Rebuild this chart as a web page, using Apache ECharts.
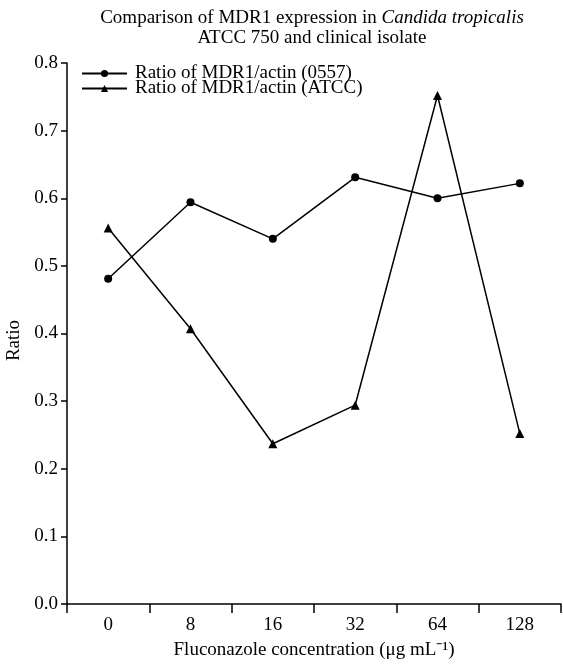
<!DOCTYPE html>
<html>
<head>
<meta charset="utf-8">
<script src="https://cdn.jsdelivr.net/npm/echarts@6/dist/echarts.min.js"></script>
<style>html,body{margin:0;padding:0;background:#fff;}#c{width:563px;height:664px;}</style>
</head>
<body>
<div id="c"></div>
<script>
var categories = ['0', '8', '16', '32', '64', '128'];
var ratio0557 = [0.481, 0.594, 0.540, 0.631, 0.600, 0.622];
var ratioATCC = [0.556, 0.407, 0.237, 0.294, 0.752, 0.252];
var seriesNames = ['Ratio of MDR1/actin (0557)', 'Ratio of MDR1/actin (ATCC)'];

var font = 'Liberation Serif';
var fs = 19;
var chart = echarts.init(document.getElementById('c'), null, {renderer: 'canvas'});
chart.setOption({
  backgroundColor: '#fff',
  animation: false,
  title: {
    text: '{n|Comparison of MDR1 expression in }{i|Candida tropicalis}\n{n|ATCC 750 and clinical isolate}',
    left: 312,
    textAlign: 'center',
    top: 8,
    padding: 0,
    textStyle: {
      fontWeight: 'normal',
      rich: {
        n: {fontFamily: font, fontSize: fs, fontWeight: 'normal', color: '#000', lineHeight: 20},
        i: {fontFamily: font, fontSize: fs, fontWeight: 'normal', color: '#000', fontStyle: 'italic', lineHeight: 20}
      }
    }
  },
  legend: {
    orient: 'vertical',
    left: 81,
    top: 64,
    padding: 0,
    itemWidth: 45,
    itemHeight: 9,
    itemGap: -4,
    textStyle: {fontFamily: font, fontSize: fs, color: '#000', lineHeight: 15, padding: [0, 0, 0, 3]},
    data: seriesNames
  },
  grid: {left: 67, right: 2, top: 63, bottom: 60, containLabel: false, outerBoundsMode: 'none'},
  xAxis: {
    type: 'category',
    data: categories,
    boundaryGap: true,
    name: 'Fluconazole concentration (μg mL⁻¹)',
    nameLocation: 'middle',
    nameGap: 37,
    nameTextStyle: {fontFamily: font, fontSize: fs, color: '#000'},
    axisLine: {lineStyle: {color: '#000', width: 1.5}},
    axisTick: {show: true, inside: false, length: 9, lineStyle: {color: '#000', width: 1.5}},
    axisLabel: {fontFamily: font, fontSize: fs, color: '#000', margin: 12},
    splitLine: {show: false}
  },
  yAxis: {
    type: 'value',
    min: 0,
    max: 0.8,
    interval: 0.1,
    name: 'Ratio',
    nameLocation: 'middle',
    nameGap: 43,
    nameTextStyle: {fontFamily: font, fontSize: fs, color: '#000', padding: [0, 14, 0, 0]},
    axisLine: {show: true, lineStyle: {color: '#000', width: 1.5}},
    axisTick: {show: true, inside: false, length: 6, lineStyle: {color: '#000', width: 1.5}},
    axisLabel: {fontFamily: font, fontSize: fs, color: '#000', margin: 9,
      formatter: function (v) { return v.toFixed(1); }},
    splitLine: {show: false}
  },
  series: [
    {
      name: seriesNames[0],
      type: 'line',
      data: ratio0557,
      symbol: 'circle',
      symbolSize: 8,
      lineStyle: {color: '#000', width: 1.5},
      itemStyle: {color: '#000'}
    },
    {
      name: seriesNames[1],
      type: 'line',
      data: ratioATCC,
      symbol: 'triangle',
      symbolSize: 9,
      lineStyle: {color: '#000', width: 1.5},
      itemStyle: {color: '#000'}
    }
  ]
});
</script>
</body>
</html>
